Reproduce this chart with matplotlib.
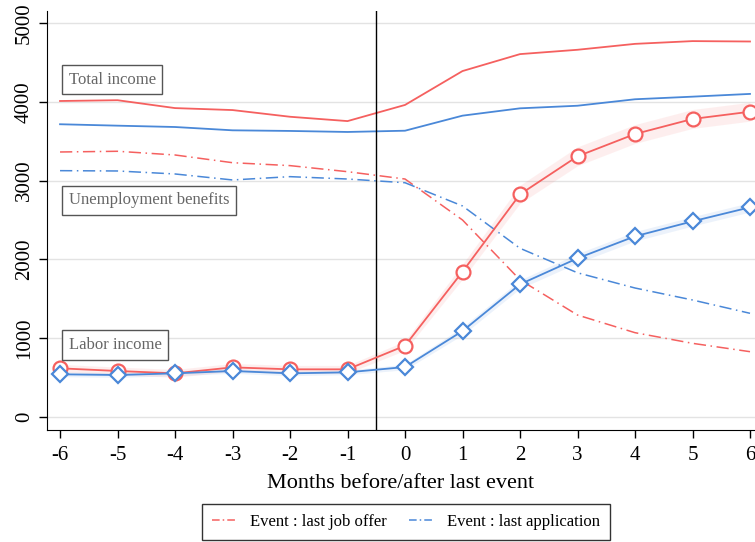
import matplotlib
matplotlib.use("Agg")
import matplotlib.pyplot as plt
import numpy as np
from matplotlib.lines import Line2D

plt.rcParams["font.family"] = ["Liberation Serif", "DejaVu Serif"]

RED = "#F5605F"
BLUE = "#4A88D8"

months = np.arange(-6, 7)

# total income
tot_offer = [4010, 4020, 3920, 3895, 3810, 3755, 3960, 4390, 4605, 4660, 4735, 4770, 4765]
tot_appl = [3715, 3697, 3680, 3638, 3630, 3617, 3633, 3824, 3917, 3950, 4032, 4065, 4100]
# unemployment benefits
ub_offer = [3363, 3372, 3325, 3227, 3190, 3113, 3020, 2500, 1740, 1294, 1070, 935, 829]
ub_appl = [3126, 3122, 3084, 3008, 3050, 3020, 2973, 2678, 2141, 1830, 1637, 1485, 1316]
# labor income
lab_offer = [618, 584, 554, 630, 605, 605, 905, 1844, 2826, 3308, 3591, 3782, 3874]
lab_appl = [542, 533, 554, 584, 554, 567, 634, 1091, 1684, 2014, 2293, 2483, 2661]
# half-width of confidence bands
ci_offer = [50, 50, 50, 50, 50, 50, 60, 95, 115, 120, 120, 120, 120]
ci_appl = [30, 30, 30, 30, 30, 30, 35, 50, 55, 60, 60, 60, 60]

fig = plt.figure(figsize=(7.55, 5.42), dpi=100)
ax = fig.add_axes([0.0623, 0.2072, 0.9377, 0.7725])

for v in range(0, 6000, 1000):
    ax.axhline(v, color="#e3e3e3", lw=1.0, zorder=0)

lo = np.array(lab_offer); la = np.array(lab_appl)
ax.fill_between(months, lo - ci_offer, lo + ci_offer, color=RED, alpha=0.1, lw=0, zorder=1)
ax.fill_between(months, la - ci_appl, la + ci_appl, color=BLUE, alpha=0.1, lw=0, zorder=1)

ax.plot(months, tot_offer, color=RED, lw=1.3, zorder=2)
ax.plot(months, tot_appl, color=BLUE, lw=1.3, zorder=2)
ax.plot(months, ub_offer, color=RED, lw=1.1, ls=(0, (8, 3, 1, 3)), zorder=2)
ax.plot(months, ub_appl, color=BLUE, lw=1.1, ls=(0, (8, 3, 1, 3)), zorder=2)
ax.plot(months, lab_offer, color=RED, lw=1.3, marker="o", ms=10, mfc="white",
        mec=RED, mew=1.6, zorder=3)
ax.plot(months, lab_appl, color=BLUE, lw=1.3, marker="D", ms=8, mfc="white",
        mec=BLUE, mew=1.6, zorder=4)

ax.axvline(-0.5, color="black", lw=1.0, zorder=2)

ax.set_xlim(-6.226, 6.087)
ax.set_ylim(-161, 5152)
ax.set_xticks(months)
ax.set_xticklabels([str(m) for m in months], fontsize=15)
ax.set_yticks(range(0, 6000, 1000))
ax.set_yticklabels([str(v) for v in range(0, 6000, 1000)], fontsize=15,
                   rotation=90, va="center")
ax.tick_params(axis="both", direction="out", length=6, width=1.0, colors="black")
ax.tick_params(axis="x", pad=6)
ax.spines[["top", "right"]].set_visible(False)
ax.set_xlabel("Months before/after last event", fontsize=16, labelpad=6)

bbox = dict(boxstyle="square,pad=0.4", fc="white", ec="#555555", lw=1.0)
for txt, yv in [("Total income", 4280), ("Unemployment benefits", 2750), ("Labor income", 915)]:
    ax.text(-5.85, yv, txt, fontsize=12, color="#666666", ha="left", va="center",
            bbox=bbox, zorder=5)

handles = [Line2D([], [], color=RED, lw=1.1, ls=(0, (5, 2, 1, 2))),
           Line2D([], [], color=BLUE, lw=1.1, ls=(0, (5, 2, 1, 2)))]
leg = fig.legend(handles, ["Event : last job offer", "Event : last application"],
                 loc="center", bbox_to_anchor=(0.538, 0.0375), ncol=2, fontsize=12,
                 frameon=True, fancybox=False, edgecolor="black", handlelength=1.5,
                 columnspacing=1.3, borderpad=0.6)
leg.get_frame().set_linewidth(1.0)

fig.savefig("out.png", dpi=100, facecolor="white")
